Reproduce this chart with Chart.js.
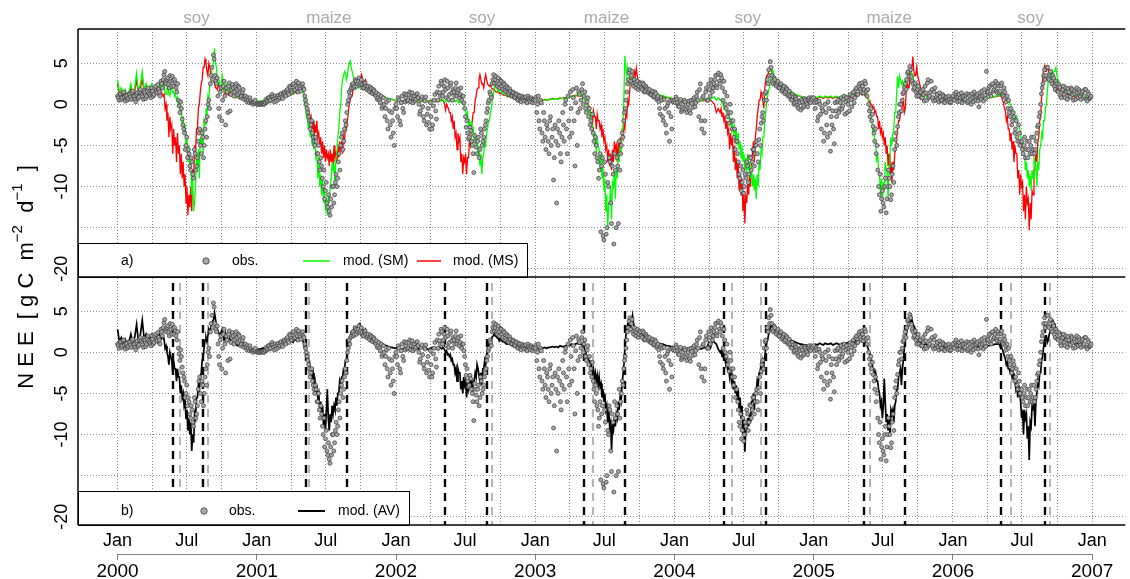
<!DOCTYPE html>
<html><head><meta charset="utf-8">
<script src="https://cdn.jsdelivr.net/npm/chart.js@4"></script>
<style>html,body{margin:0;padding:0;background:#fff;}canvas{display:block;}</style>
</head><body>
<canvas id="c" width="1130" height="579"></canvas>
<script>
const YEARS = [2000, 2001, 2002, 2003, 2004, 2005, 2006];
const LINE_STEP = 5;        // days between model values
const LINE_B_OFFSET = 122.5; // growing-season in-between model values start here (day of year)
const OBS_STEP = 4;         // days between observed values (two interleaved sets, offset 2 days)

const SM2000 = [3.0,1.5,2.0,1.2,1.8,1.0,1.5,2.5,1.2,2.0,3.8,1.5,2.5,4.0,1.8,2.5,1.5,2.0,2.5,1.8,2.2,1.5,2.5,1.8,2.2,1.5,2.0,1.2,1.8,1.5,1.0,0.5,0.0,-1.0,-2.5,-3.5,-5.0,-7.0,-8.0,-11.0,-13.0,-10.0,-7.5,-9.0,-5.0,-6.0,-2.5,-1.5,0.5,2.5,4.5,6.8,4.5,3.0,2.0,3.5,1.5,2.5,1.5,2.0,1.2,1.0,1.3,0.8,1.0,0.7,0.8,0.6,0.5,0.5,0.4,0.4,0.3];
const SM2001 = [0.3,0.4,0.3,0.5,0.4,0.6,0.5,0.7,0.6,0.8,0.7,0.9,0.8,1.0,0.9,1.2,1.0,1.3,1.5,1.2,1.6,1.4,1.8,1.5,2.0,0.0,-1.5,-3.0,-4.0,-5.0,-5.5,-6.5,-9.0,-10.0,-11.0,-12.0,-13.0,-13.5,-12.0,-9.0,-8.0,-10.0,-6.0,-3.0,0.0,3.0,4.0,3.0,4.5,5.3,4.0,3.0,2.0,2.5,2.0,2.2,1.8,2.0,1.6,1.8,1.5,1.4,1.2,1.3,1.0,1.1,0.9,0.8,0.8,0.7,0.6,0.6,0.5];
const SM2002 = [0.5,0.4,0.5,0.3,0.4,0.5,0.3,0.4,0.5,0.4,0.3,0.5,0.4,0.3,0.5,0.4,0.5,0.3,0.4,0.6,0.4,0.5,0.3,0.6,0.4,0.5,0.3,0.5,0.3,0.4,0.5,0.3,0.5,0.2,0.3,0.0,-0.5,-1.5,-2.5,-3.0,-3.5,-4.5,-5.0,-6.0,-7.5,-8.5,-6.0,-5.0,-3.0,-2.0,-0.5,1.0,2.5,2.0,1.5,1.8,1.3,1.5,1.0,1.2,0.8,1.0,0.7,0.8,0.6,0.7,0.5,0.6,0.4,0.5,0.4,0.4,0.5];
const SM2003 = [0.4,0.5,0.4,0.6,0.5,0.5,0.6,0.5,0.7,0.6,0.6,0.7,0.6,0.8,0.7,0.7,0.8,0.9,0.8,1.0,0.9,1.0,1.2,1.0,1.1,0.8,0.5,0.0,-1.0,-2.0,-3.5,-5.0,-6.0,-5.0,-8.0,-9.0,-10.5,-13.0,-15.3,-12.0,-14.0,-10.0,-11.5,-9.0,-7.0,-6.0,-2.0,5.9,3.5,4.0,2.5,3.0,2.2,2.5,2.0,2.2,1.8,2.0,1.6,1.8,1.5,1.6,1.3,1.4,1.2,1.2,1.0,1.1,0.9,0.9,0.8,0.8,0.7];
const SM2004 = [0.7,0.6,0.5,0.6,0.4,0.5,0.4,0.5,0.3,0.4,0.5,0.3,0.4,0.5,0.4,0.5,0.6,0.5,0.7,0.6,0.8,0.9,0.5,0.8,0.5,0.2,-0.5,-0.8,-1.5,-2.0,-3.0,-3.5,-4.0,-5.0,-5.5,-6.5,-7.0,-8.0,-8.5,-8.0,-9.0,-10.0,-10.5,-11.5,-10.0,-8.0,-6.0,-4.0,-1.0,1.0,2.0,3.5,4.0,3.0,2.5,2.8,2.2,2.5,2.0,2.2,1.8,1.6,1.5,1.3,1.2,1.1,1.0,0.9,0.9,0.8,0.8,0.7,0.7];
const SM2005 = [0.8,0.9,0.8,1.0,0.9,0.8,1.0,0.9,0.9,1.0,0.8,0.9,1.0,0.9,0.8,1.0,0.9,1.0,1.1,1.0,1.2,1.1,1.3,1.2,1.5,1.3,1.5,1.2,1.0,0.0,-2.0,-3.5,-4.5,-7.0,-8.0,-11.0,-12.0,-10.5,-8.0,-11.6,-6.0,-5.0,-3.0,-1.0,3.4,3.5,2.5,2.0,3.0,2.5,4.0,3.8,3.5,2.5,2.0,1.5,1.0,1.2,0.9,1.0,0.8,0.9,0.8,0.7,0.8,0.7,0.7,0.6,0.7,0.6,0.6,0.5,0.6];
const SM2006 = [0.5,0.6,0.5,0.7,0.6,0.5,0.6,0.7,0.5,0.6,0.7,0.6,0.8,0.7,0.6,0.7,0.8,0.7,0.9,0.8,0.9,1.0,0.9,1.1,1.0,1.2,1.0,0.8,0.6,0.3,0.0,-1.0,-1.5,-2.0,-2.5,-3.0,-5.0,-6.0,-8.0,-9.0,-10.0,-10.5,-9.0,-7.0,-10.0,-8.0,-5.0,-4.0,-2.0,0.0,3.0,3.5,4.0,4.0,4.5,3.0,2.5,2.0,2.2,1.5,1.8,1.2,1.6,1.0,1.4,0.9,1.5,0.8,1.2,0.7,1.0,0.6,0.5];

const SMB2000 = [2.6,1.2,2.3,1.0,2.2,1.6,1.2,0.8,0.2,-0.5,-1.5,-2.5,-4.0,-5.0,-7.0,-9.0,-12.0,-6.0,-5.5,-4.0,-3.0,-2.0,-0.5,1.0,2.5,4.0,5.5,5.0,3.0,2.8,2.2,2.8,1.8,2.2,1.5,1.8];
const SMB2001 = [1.5,0.5,-1.0,-2.0,-2.5,-4.0,-4.0,-6.0,-6.5,-8.5,-9.0,-10.0,-11.5,-11.0,-10.0,-7.0,-7.5,-6.5,-4.0,-1.0,2.0,3.5,3.8,3.5,5.0,4.5,3.5,2.5,2.8,2.0,2.4,1.8,2.2,1.7,2.0,1.5];
const SMB2002 = [0.6,0.3,0.5,0.3,0.5,0.6,0.4,0.5,0.3,0.4,0.1,0.0,-0.8,-1.0,-2.0,-2.0,-3.0,-3.5,-4.5,-5.0,-6.0,-6.5,-4.5,-3.5,-2.0,-1.0,0.5,2.0,2.0,1.5,1.8,1.4,1.6,1.1,1.3,0.9];
const SMB2003 = [1.2,0.9,0.6,-0.2,-0.8,-1.5,-3.0,-3.5,-4.0,-5.5,-6.0,-7.5,-9.0,-11.0,-12.0,-10.0,-9.5,-8.0,-8.0,-6.0,-5.0,-3.0,1.0,4.5,4.5,3.0,3.2,2.4,2.8,2.0,2.4,1.8,2.2,1.6,1.9,1.4];
const SMB2004 = [0.6,0.0,-0.3,-0.8,-1.0,-1.8,-2.0,-2.8,-3.0,-3.5,-4.5,-5.0,-6.0,-6.5,-6.0,-7.0,-7.5,-8.5,-9.0,-8.5,-7.0,-5.5,-4.0,-2.0,0.5,1.8,3.0,4.2,3.2,2.5,3.0,2.2,2.6,2.0,2.3,1.8];
const SMB2005 = [1.6,1.2,1.6,1.4,0.8,-0.5,-2.0,-3.0,-4.5,-6.0,-8.5,-9.0,-9.5,-7.0,-8.0,-7.5,-4.0,-3.5,-1.0,1.5,2.0,3.0,2.8,2.5,2.5,3.5,3.4,3.8,2.8,2.4,1.6,1.3,1.3,1.0,1.1,0.8];
const SMB2006 = [1.2,1.0,0.9,0.8,0.5,0.3,-0.3,-0.8,-1.5,-1.5,-2.5,-3.5,-4.5,-6.0,-7.0,-8.0,-8.5,-8.0,-6.5,-7.5,-7.0,-5.5,-3.5,-2.0,-0.5,1.5,2.8,3.2,3.6,4.2,3.5,2.8,2.2,2.4,1.8,1.6];

const MS2000 = [2.5,1.2,1.5,1.0,1.5,0.8,1.2,2.0,1.0,1.5,3.0,1.2,2.0,3.0,1.5,2.0,1.2,1.5,2.0,1.5,1.8,1.2,2.0,1.5,1.0,-0.5,-2.0,-4.0,-3.0,-6.0,-5.0,-7.0,-6.0,-8.5,-9.0,-10.0,-12.0,-13.5,-12.5,-13.0,-9.0,-6.0,-3.0,0.0,2.5,4.5,5.5,4.0,5.0,3.5,3.0,2.5,2.0,2.5,1.5,2.0,1.5,1.8,1.2,1.5,1.0,1.0,0.8,0.9,0.7,0.7,0.6,0.5,0.5,0.4,0.4,0.3,0.3];
const MS2001 = [0.3,0.3,0.4,0.4,0.5,0.5,0.6,0.6,0.7,0.7,0.8,0.8,0.9,0.9,1.0,1.1,1.0,1.2,1.3,1.2,1.5,1.3,1.6,1.5,1.8,1.0,0.0,-1.5,-2.0,-3.0,-4.0,-3.5,-4.0,-5.0,-6.0,-6.5,-7.0,-6.5,-7.5,-7.0,-7.5,-6.5,-7.0,-6.5,-5.5,-6.0,-4.5,-3.0,-1.0,0.5,1.0,2.0,2.5,2.5,3.0,3.6,2.5,3.0,2.2,2.0,1.8,1.6,1.5,1.3,1.2,1.0,1.0,0.9,0.8,0.7,0.6,0.6,0.5];
const MS2002 = [0.4,0.5,0.3,0.4,0.5,0.3,0.4,0.4,0.5,0.3,0.4,0.4,0.5,0.3,0.4,0.5,0.3,0.4,0.5,0.4,0.5,0.3,0.5,0.4,0.6,0.3,-0.7,-0.3,-1.0,-2.0,-3.0,-4.0,-5.5,-4.5,-7.0,-8.5,-7.0,-8.5,-6.5,-5.0,-2.0,-1.0,1.0,2.0,3.6,2.5,2.0,3.6,2.5,2.2,2.0,1.8,1.6,1.5,1.4,1.3,1.2,1.1,1.0,1.0,0.9,0.8,0.7,0.7,0.6,0.6,0.5,0.5,0.4,0.5,0.4,0.4,0.5];
const MS2003 = [0.4,0.4,0.5,0.5,0.5,0.6,0.5,0.6,0.6,0.7,0.6,0.7,0.7,0.8,0.7,0.8,0.8,0.9,0.9,1.0,1.0,1.1,1.0,1.2,1.0,0.8,0.5,0.2,-0.5,-1.0,-2.5,-1.5,-3.0,-2.0,-3.0,-4.0,-4.5,-5.5,-7.0,-7.5,-8.0,-7.0,-5.5,-7.0,-6.0,-5.5,-4.0,-3.0,-1.5,0.0,3.0,2.5,4.0,4.4,2.5,2.8,2.2,2.0,1.8,1.6,1.5,1.4,1.3,1.2,1.1,1.0,1.0,0.9,0.9,0.8,0.8,0.7,0.7];
const MS2004 = [0.6,0.5,0.5,0.4,0.4,0.5,0.3,0.4,0.3,0.4,0.4,0.3,0.4,0.4,0.5,0.4,0.5,0.5,0.6,0.5,0.3,0.0,-1.0,-0.5,-1.0,-1.5,-2.0,-3.0,-3.5,-5.5,-5.0,-7.0,-8.0,-9.0,-10.5,-11.0,-13.0,-14.5,-12.0,-11.0,-10.0,-6.0,-7.0,-3.0,-0.5,0.5,1.0,-0.5,3.0,3.5,4.5,4.0,3.5,3.0,2.5,2.5,2.2,2.0,1.8,1.7,1.5,1.4,1.3,1.2,1.1,1.0,1.0,0.9,0.8,0.8,0.7,0.7,0.7];
const MS2005 = [0.7,0.8,0.7,0.9,0.8,0.7,0.9,0.8,0.8,0.9,0.7,0.8,0.9,0.8,0.7,0.9,0.8,0.9,1.0,0.9,1.1,1.0,1.2,1.1,1.3,1.2,1.3,1.0,0.8,0.5,0.0,-0.5,-1.0,-1.5,-3.0,-3.5,-4.0,-5.0,-6.0,-7.5,-8.5,-9.5,-8.0,-5.5,-3.0,-2.0,-1.0,0.5,-0.5,3.0,2.0,4.0,5.8,3.5,4.5,3.0,2.0,1.6,1.4,1.2,1.1,1.0,0.9,0.8,0.8,0.7,0.7,0.6,0.6,0.6,0.5,0.5,0.5];
const MS2006 = [0.5,0.5,0.6,0.6,0.5,0.5,0.6,0.6,0.5,0.6,0.6,0.6,0.7,0.7,0.6,0.7,0.7,0.7,0.8,0.8,0.9,0.9,0.9,1.0,1.0,1.0,0.5,-0.5,-2.0,-3.0,-4.5,-5.5,-7.0,-6.0,-9.0,-11.0,-10.0,-13.0,-14.0,-12.0,-15.3,-14.0,-11.0,-8.0,-7.0,-4.0,-1.5,3.0,4.6,4.0,4.5,4.0,3.0,2.5,2.0,1.8,1.6,1.5,1.4,1.3,1.2,1.1,1.0,1.0,0.9,0.8,0.8,0.7,0.7,0.6,0.6,0.5,0.5];

const MSB2000 = [1.2,0.0,-1.0,-1.5,-2.5,-3.0,-4.0,-3.5,-5.0,-6.0,-7.0,-8.5,-10.0,-11.0,-10.0,-8.0,-5.0,-3.0,-0.5,1.5,3.0,4.5,5.0,3.5,4.5,3.0,2.8,2.0,1.8,2.2,1.5,2.0,1.3,1.6,1.1,1.3];
const MSB2001 = [1.6,0.8,-0.5,-1.0,-1.5,-2.0,-2.5,-2.0,-3.5,-4.0,-4.5,-5.0,-5.5,-6.0,-5.5,-6.0,-5.0,-6.0,-5.0,-4.5,-4.5,-4.0,-2.5,-2.0,0.0,1.0,1.8,2.5,2.2,3.0,3.2,3.0,2.8,2.5,2.3,1.9];
const MSB2002 = [0.5,0.0,0.0,-0.5,-1.0,-1.5,-2.0,-3.5,-3.5,-4.0,-6.0,-6.5,-6.0,-6.5,-4.5,-3.0,-1.0,0.5,1.8,3.0,3.0,2.5,3.0,3.0,2.3,2.4,1.9,1.9,1.5,1.6,1.3,1.3,1.1,1.1,0.9,1.0];
const MSB2003 = [1.1,0.9,0.6,0.0,-0.3,-1.0,-0.8,-1.5,-1.2,-2.0,-2.5,-3.0,-4.0,-5.0,-5.5,-6.0,-5.5,-4.5,-5.0,-4.5,-4.0,-3.5,-2.5,-1.0,0.5,1.5,3.5,3.0,3.5,3.5,2.4,2.5,2.1,1.9,1.7,1.5];
const MSB2004 = [-0.5,-1.0,-1.5,-2.0,-3.0,-3.5,-4.0,-5.0,-6.5,-7.0,-8.5,-9.0,-10.5,-11.0,-9.5,-8.5,-7.0,-4.5,-4.0,-1.5,0.5,1.5,0.5,2.0,3.5,4.0,4.5,3.5,3.2,2.8,2.6,2.3,2.1,1.9,1.8,1.6];
const MSB2005 = [1.4,1.1,1.2,0.9,0.7,0.3,0.0,-0.3,-0.8,-1.5,-2.0,-3.0,-3.5,-4.0,-5.0,-6.0,-7.0,-7.0,-6.0,-4.0,-2.0,-1.0,0.0,-1.0,1.5,2.0,3.5,4.5,4.0,3.5,3.5,2.5,1.8,1.5,1.3,1.1];
const MSB2006 = [1.1,0.9,0.2,-0.8,-1.5,-3.0,-3.5,-4.5,-5.0,-6.0,-8.0,-8.5,-9.5,-11.0,-10.0,-11.5,-12.0,-10.5,-8.0,-6.0,-4.5,-2.0,1.0,4.0,4.0,4.3,3.8,3.4,2.8,2.2,2.0,1.7,1.6,1.4,1.4,1.2];

const AV2000 = [2.8,1.3,1.8,1.1,1.6,0.9,1.3,2.2,1.1,1.8,3.4,1.3,2.2,3.9,1.6,2.2,1.3,1.8,2.2,1.6,2.0,1.3,2.2,1.6,2.0,0.5,0.0,-1.5,-0.5,-2.5,-2.0,-3.5,-3.0,-5.0,-5.5,-6.5,-8.0,-9.5,-10.0,-12.0,-11.0,-8.0,-5.5,-4.5,-2.5,-0.5,1.5,1.3,2.8,3.0,3.8,4.8,3.3,2.5,1.8,2.8,1.5,2.2,1.4,1.8,1.1,1.0,1.1,0.8,0.9,0.7,0.7,0.6,0.5,0.4,0.4,0.3,0.3];
const AV2001 = [0.3,0.4,0.4,0.5,0.5,0.6,0.6,0.7,0.7,0.8,0.8,0.9,0.9,1.0,1.0,1.2,1.0,1.3,1.4,1.2,1.6,1.4,1.7,1.5,1.5,0.5,0.0,-1.0,-2.0,-3.0,-4.0,-5.0,-5.5,-7.0,-7.5,-9.0,-9.5,-4.5,-9.5,-8.5,-7.5,-7.0,-6.5,-5.0,-4.0,-3.0,-2.0,-1.0,0.5,1.5,2.5,3.0,2.5,3.0,3.5,3.0,2.5,2.8,2.2,2.0,1.8,1.6,1.5,1.3,1.2,1.0,1.0,0.9,0.8,0.7,0.6,0.6,0.5];
const AV2002 = [0.5,0.4,0.5,0.3,0.5,0.4,0.3,0.5,0.6,0.4,0.3,0.5,0.4,0.6,0.5,0.4,0.5,0.3,0.5,0.6,0.4,0.5,0.3,0.6,0.4,0.5,0.0,-0.3,-0.5,-1.0,-1.5,-2.5,-3.5,-2.5,-4.5,-5.0,-4.0,-5.5,-4.5,-4.0,-5.2,-3.5,-3.0,-2.0,-3.5,-4.0,-2.0,-1.5,0.5,0.8,1.5,2.0,2.0,1.8,1.5,1.5,1.3,1.2,1.0,1.1,0.9,0.8,0.7,0.8,0.6,0.6,0.5,0.5,0.4,0.5,0.4,0.4,0.5];
const AV2003 = [0.4,0.5,0.4,0.5,0.5,0.6,0.5,0.6,0.6,0.7,0.6,0.7,0.6,0.8,0.7,0.7,0.8,0.9,0.8,1.0,0.9,1.0,1.1,1.0,1.0,0.8,0.3,-0.5,-1.0,-1.8,-2.5,-3.2,-3.5,-4.0,-4.2,-5.5,-6.0,-7.0,-8.5,-9.0,-11.9,-9.5,-9.0,-8.0,-7.0,-6.0,-4.0,0.5,2.7,3.5,3.0,4.5,3.0,2.5,2.3,2.5,2.0,2.2,1.8,1.9,1.6,1.5,1.4,1.3,1.2,1.1,1.0,1.0,0.9,0.8,0.8,0.7,0.7];
const AV2004 = [0.6,0.5,0.5,0.5,0.4,0.5,0.4,0.5,0.3,0.4,0.5,0.3,0.4,0.5,0.4,0.5,0.6,0.5,1.2,0.6,1.5,1.2,1.0,0.4,0.0,-0.5,-0.8,-1.5,-2.2,-3.0,-3.5,-4.5,-5.0,-5.8,-7.0,-8.0,-10.0,-12.1,-9.5,-9.0,-8.5,-6.0,-7.0,-5.0,-4.0,-2.5,-2.0,-1.5,0.5,1.5,2.5,3.5,3.0,2.5,2.2,2.1,2.0,1.9,1.8,1.7,1.6,1.5,1.4,1.3,1.2,1.1,1.0,1.0,0.9,0.9,0.8,0.8,0.7];
const AV2005 = [0.9,1.0,0.9,1.1,1.0,0.9,1.1,1.0,1.0,1.1,0.9,1.0,1.1,1.0,0.9,1.1,1.0,1.1,1.2,1.1,1.3,1.2,1.4,1.3,1.5,1.4,1.5,1.2,0.8,0.0,-1.0,-2.0,-3.0,-3.5,-4.5,-6.5,-8.0,-3.2,-8.5,-9.5,-9.9,-7.5,-8.5,-6.0,-4.5,-2.5,-4.0,-1.0,1.5,3.0,3.5,4.7,3.5,3.0,2.0,1.5,1.0,1.2,0.9,1.0,0.8,0.9,0.8,0.8,0.7,0.8,0.7,0.6,0.7,0.6,0.6,0.5,0.6];
const AV2006 = [0.5,0.6,0.5,0.6,0.6,0.5,0.6,0.6,0.5,0.6,0.6,0.6,0.7,0.7,0.6,0.7,0.8,0.7,0.8,0.8,0.9,0.9,1.0,1.0,1.0,0.5,0.3,-0.5,-1.5,-2.0,-2.5,-3.0,-3.5,-4.5,-5.5,-5.0,-8.0,-10.0,-8.0,-10.5,-13.1,-9.0,-7.0,-9.0,-5.0,-4.0,-2.5,-0.5,1.5,2.0,1.5,2.5,3.5,3.5,3.0,2.5,2.0,2.2,1.5,1.8,1.3,1.6,1.1,1.4,1.0,1.3,0.8,1.1,0.7,0.9,0.6,0.5,0.5];

const AVB2000 = [1.5,0.8,-0.5,0.0,-1.0,-1.0,-2.0,-2.0,-3.0,-4.0,-5.0,-6.0,-7.0,-8.0,-8.5,-10.0,-7.5,-5.5,-4.0,-3.0,-1.0,0.5,1.8,2.0,2.5,3.5,4.0,4.0,2.8,2.2,2.5,2.0,1.8,1.8,1.6,1.4];
const AVB2001 = [1.2,0.4,-0.3,-1.0,-2.0,-2.5,-3.5,-4.0,-5.0,-6.0,-6.5,-7.5,-7.0,-8.0,-7.5,-6.5,-6.5,-5.5,-5.0,-3.5,-3.0,-2.0,-1.0,0.0,1.2,2.2,2.5,3.0,2.8,3.4,3.0,2.8,2.6,2.4,2.2,1.9];
const AVB2002 = [0.6,0.3,0.2,-0.2,-0.3,-0.8,-1.5,-2.0,-2.0,-2.5,-3.5,-3.0,-3.5,-4.0,-3.0,-3.5,-3.5,-2.5,-1.5,-2.0,-2.5,-2.0,-1.0,-0.5,1.0,1.3,1.9,2.2,1.9,1.7,1.6,1.4,1.3,1.1,1.0,1.0];
const AVB2003 = [1.0,0.7,0.0,-0.5,-1.0,-1.5,-2.0,-2.5,-2.8,-3.0,-3.8,-4.5,-5.0,-6.5,-7.0,-8.5,-9.0,-8.0,-7.5,-6.0,-5.5,-4.0,-1.5,2.0,3.5,3.0,3.8,3.6,2.6,2.6,2.2,2.3,2.0,2.0,1.7,1.7];
const AVB2004 = [0.2,-0.3,-0.8,-1.0,-2.0,-2.0,-3.0,-3.5,-4.0,-4.5,-5.5,-6.5,-8.0,-9.5,-8.0,-7.5,-6.0,-5.0,-5.0,-3.5,-2.5,-1.5,-1.0,-0.5,1.2,2.2,3.2,3.0,2.8,2.3,2.2,2.0,2.0,1.8,1.8,1.6];
const AVB2005 = [1.6,1.3,1.4,1.0,0.5,-0.3,-1.0,-2.0,-2.5,-3.5,-5.0,-6.0,-6.5,-6.0,-7.5,-8.0,-7.0,-7.0,-6.5,-4.5,-3.0,-2.0,-2.0,0.5,2.0,3.0,3.8,4.0,3.2,2.5,1.8,1.2,1.2,1.0,1.0,0.9];
const AVB2006 = [0.9,0.6,0.0,-0.8,-1.2,-2.0,-2.2,-2.5,-3.5,-4.0,-4.0,-6.0,-7.0,-7.0,-7.5,-9.0,-8.5,-6.5,-6.0,-6.0,-3.5,-2.5,-1.0,0.5,2.0,1.2,2.2,3.0,3.8,3.2,2.8,2.2,2.4,1.6,2.0,1.5];

const OBS2000 = [1.0,0.5,1.3,0.8,1.5,0.4,1.1,0.7,1.2,0.6,1.6,1.0,0.3,1.4,0.9,1.8,1.1,0.6,1.5,1.0,2.0,1.2,0.8,1.6,1.2,2.2,1.4,1.8,1.0,2.5,3.0,4.0,2.5,3.2,2.0,2.8,3.4,2.2,2.6,1.5,0.5,-1.0,-0.5,-2.5,-3.5,-5.0,-6.5,-6.0,-8.0,-7.0,-9.0,-6.0,-7.5,-4.5,-3.0,-6.0,-4.0,-5.0,-2.0,-1.5,0.5,2.5,4.5,6.0,3.5,2.5,1.0,-1.5,2.0,0.5,2.8,-2.5,1.5,2.2,-0.8,1.8,2.0,1.5,2.5,1.2,2.0,0.8,1.5,0.6,1.0,0.3,0.5,0.8,0.2,0.0,0.3];
const OBS2001 = [0.0,0.0,0.1,0.0,0.1,0.0,0.6,0.4,0.8,0.5,1.2,0.6,1.0,0.4,1.1,0.8,1.3,0.7,1.5,1.0,1.8,1.2,2.0,1.5,2.5,1.8,2.8,1.5,2.2,1.6,2.5,1.8,0.5,-0.5,-1.5,-3.0,-2.0,-4.0,-5.0,-4.5,-6.0,-7.0,-6.5,-9.0,-8.0,-10.5,-12.0,-11.0,-13.5,-12.5,-10.0,-11.0,-8.5,-9.0,-6.0,-5.0,-3.5,-4.5,-2.0,-1.0,0.5,1.0,2.0,2.5,2.2,2.8,2.5,3.2,2.6,2.4,2.0,2.6,1.8,2.2,1.5,1.9,1.3,1.6,1.0,0.6,1.2,0.2,-0.5,0.8,-1.5,0.3,-3.0,-0.8,-4.0,-2.0,-5.0];
const OBS2002 = [0.0,-1.5,0.5,-2.5,1.0,-1.0,0.3,1.2,0.5,1.5,0.8,0.2,1.0,0.6,1.3,0.0,-0.8,0.9,-1.5,0.4,-2.5,-0.5,-3.0,-1.5,-2.5,0.5,-0.8,1.5,2.2,1.0,2.5,1.5,3.0,0.8,2.0,1.2,2.6,0.5,1.5,2.0,1.0,1.8,1.2,0.5,1.0,-0.5,-2.8,-3.5,-4.0,-3.2,-5.0,-8.3,-4.5,-6.0,-4.0,-5.5,-3.5,-4.5,-3.0,-2.0,-0.5,0.5,1.2,2.5,3.6,3.0,2.5,3.2,2.0,2.8,1.8,2.4,1.5,2.0,1.2,1.6,1.0,1.4,0.8,1.2,0.5,1.0,0.3,0.8,0.4,0.9,0.2,0.7,0.3,0.6,0.5];
const OBS2003 = [0.5,-1.0,1.0,-3.0,0.2,-4.5,-2.0,-5.5,-3.0,-6.0,-1.5,-4.0,-9.2,-2.5,-12.0,-5.0,-3.5,-7.0,-1.0,-4.5,0.5,-6.0,-2.0,1.5,-3.5,0.8,-7.5,2.0,-1.0,1.2,0.5,2.5,1.0,-0.5,0.3,-1.5,-2.5,-3.0,-3.5,-6.0,-5.0,-7.0,-8.0,-15.5,-6.5,-16.5,-8.5,-15.0,-10.0,-7.0,-14.5,-8.5,-6.0,-15.0,-7.5,-4.5,-6.0,-3.5,-2.0,-0.5,1.5,3.0,4.2,3.5,2.5,3.0,2.0,2.8,2.2,2.5,1.8,2.4,1.6,2.0,1.4,1.8,1.2,1.6,1.0,1.3,0.8,0.3,-1.2,0.5,-2.0,-0.5,-3.5,0.2,-4.5,-1.5,0.5];
const OBS2004 = [0.5,0.9,0.2,-0.3,0.6,-0.7,-0.5,0.3,-1.0,0.0,-0.8,0.5,-0.4,0.8,0.2,1.5,-1.5,2.5,-3.0,1.0,-2.0,2.0,0.5,1.8,3.0,1.5,2.5,3.5,2.0,3.8,2.5,3.2,0.5,1.5,-0.5,-1.5,-2.3,-1.0,-3.0,-4.0,-5.5,-4.5,-7.0,-9.0,-10.5,-8.0,-10.0,-9.0,-7.5,-8.5,-6.5,-7.0,-5.5,-6.0,-4.5,-7.0,-3.0,-2.3,-1.0,0.5,1.5,3.0,4.2,5.2,3.5,2.5,3.0,2.2,2.8,2.0,2.5,1.8,2.2,1.5,1.8,1.2,1.0,0.5,0.9,0.2,0.6,-0.3,0.4,-0.7,0.3,-0.2,0.5,0.0,0.6,0.4,0.8];
const OBS2005 = [0.8,-0.5,0.3,-1.5,0.0,-3.0,-0.8,-3.5,-1.0,-4.0,-0.5,-5.7,-2.5,-3.0,0.2,-1.5,0.5,-0.5,0.8,-0.2,1.0,0.3,-1.0,0.5,1.2,-0.3,1.5,0.8,2.0,1.2,2.5,1.5,2.2,1.8,2.5,1.0,0.0,-1.5,-2.0,-2.7,-4.5,-6.0,-8.0,-11.0,-13.0,-10.5,-12.5,-9.0,-11.5,-8.0,-10.0,-11.0,-7.5,-5.5,-3.5,-2.7,-1.0,0.0,0.5,1.5,2.5,3.0,4.0,4.6,3.4,2.5,2.0,1.5,1.8,1.0,1.5,0.8,1.2,2.2,0.5,3.0,1.0,2.8,0.8,1.5,0.5,1.2,0.3,0.9,0.5,1.0,0.2,0.8,0.4,0.6,0.3];
const OBS2006 = [1.0,0.5,1.5,0.3,1.2,0.8,0.2,1.0,0.6,1.3,0.4,1.0,0.0,0.8,1.5,0.5,1.2,-0.3,0.9,1.6,0.4,1.1,4.0,1.5,2.2,1.0,2.5,1.8,2.8,1.4,2.2,1.6,2.6,1.0,1.5,0.3,-0.5,-1.0,-0.5,-2.0,-1.5,-3.0,-4.0,-2.5,-5.0,-4.5,-6.0,-4.0,-5.5,-6.5,-4.5,-5.0,-6.0,-4.0,-5.5,-3.5,-2.5,-1.0,1.3,2.5,4.2,3.5,4.5,3.0,4.0,2.5,3.2,1.8,2.5,1.5,2.1,0.8,1.8,1.2,2.0,0.6,1.5,0.9,1.8,0.5,1.3,2.0,0.8,1.5,0.6,1.6,1.0,1.8,0.4,1.2,0.8];

const OBSB2000 = [0.8,1.2,0.6,1.4,0.9,1.0,0.5,1.3,0.9,1.4,0.8,0.6,1.2,0.7,1.5,1.3,0.9,1.7,0.7,1.6,1.4,1.0,2.0,1.0,2.0,1.6,2.4,1.5,2.8,2.0,3.6,2.7,3.0,2.4,3.5,2.2,2.9,3.0,2.0,2.5,-0.2,0.3,-1.8,-3.0,-5.5,-4.0,-5.5,-7.5,-6.5,-8.5,-5.5,-8.0,-6.5,-3.5,-5.0,-3.5,-6.5,-3.0,-4.0,0.0,-0.5,3.5,3.0,5.5,2.8,3.2,-0.5,1.5,-2.0,2.2,1.0,2.0,-1.0,2.6,1.2,2.4,1.0,2.2,1.8,2.2,1.4,1.0,1.8,1.0,0.6,0.8,0.2,0.4,0.1,0.2,0.5];
const OBSB2001 = [0.1,0.0,0.0,0.1,0.0,0.2,0.3,0.8,0.4,1.0,0.9,0.3,0.7,0.9,0.6,1.2,0.9,1.4,1.2,1.6,1.4,2.2,1.7,2.4,1.7,2.2,2.0,2.6,1.9,2.3,2.0,1.0,0.0,-1.0,-2.0,-2.5,-3.5,-4.5,-4.0,-6.0,-5.0,-8.0,-7.5,-10.0,-11.5,-9.5,-12.5,-13.0,-11.5,-10.0,-12.0,-9.5,-10.0,-7.0,-8.0,-4.0,-5.5,-3.0,-2.5,0.0,1.5,1.8,2.4,2.0,3.0,2.2,2.8,2.4,3.0,2.0,2.5,2.2,2.0,1.7,2.1,1.4,1.8,1.2,1.4,0.8,0.5,1.0,-0.2,0.0,-0.5,-2.0,0.5,-2.5,-1.0,-3.5,-0.5];
const OBSB2002 = [-0.5,0.8,-2.0,0.2,-0.5,1.3,0.8,0.4,1.2,0.3,1.4,0.7,0.4,1.2,0.8,-1.2,0.6,-0.3,-2.0,0.9,-1.2,-2.2,0.2,-3.0,-0.2,1.2,-1.8,0.5,1.4,2.8,1.0,2.2,1.8,2.8,0.6,2.3,1.4,1.8,1.0,2.6,1.4,0.8,2.0,1.0,0.2,-1.5,-2.0,-4.2,-2.8,-4.5,-6.0,-3.8,-5.2,-4.5,-6.5,-3.0,-5.0,-4.0,-2.5,-1.0,0.2,1.5,0.8,3.0,2.6,3.4,2.2,2.5,2.9,2.2,2.6,1.7,2.2,1.4,1.9,1.1,1.5,0.9,1.3,0.6,1.1,0.4,1.0,0.6,0.8,0.3,1.0,0.5,0.8,0.2,0.6];
const OBSB2003 = [0.9,0.0,-2.0,0.5,-3.5,-1.0,-4.0,-2.5,-4.5,-2.0,-5.0,-3.0,-6.5,-4.5,-3.0,-2.0,-6.0,-4.0,-2.5,0.0,-3.0,1.0,-4.0,-0.5,1.8,-2.0,0.2,-5.0,1.5,-0.5,1.8,0.0,1.5,-1.0,0.8,-0.5,-2.0,-1.2,-4.5,-4.0,-6.5,-9.0,-6.0,-7.5,-16.0,-7.0,-15.8,-9.5,-6.5,-12.0,-7.5,-17.0,-8.0,-6.5,-14.5,-8.0,-5.0,-4.0,-1.0,0.5,2.5,3.8,2.8,4.0,2.2,2.6,2.4,1.8,2.6,2.0,2.6,1.5,2.2,1.8,1.6,1.2,1.5,0.9,1.5,0.6,1.0,-0.5,0.8,-1.5,0.6,-2.5,-0.2,-1.0,0.4,-3.0,0.3];
const OBSB2004 = [0.2,0.6,-0.2,0.4,-0.9,0.0,0.5,-0.6,-0.3,0.4,-1.1,0.1,0.6,-0.3,1.0,0.5,1.8,-2.0,0.8,-3.5,1.5,0.5,2.5,1.0,2.4,2.0,3.0,2.2,3.6,2.8,3.6,2.0,2.8,0.0,1.0,-1.0,0.0,-2.0,-2.0,-3.0,-4.5,-6.0,-8.5,-7.5,-9.5,-10.8,-8.5,-7.0,-9.5,-6.4,-8.0,-5.5,-7.5,-5.0,-6.0,-4.3,-5.0,-1.5,-2.0,1.3,0.5,2.5,3.5,4.5,2.8,3.2,2.4,2.6,2.0,2.4,1.6,2.0,1.3,2.0,1.0,1.6,0.6,1.2,0.0,0.8,0.3,-0.5,0.2,0.6,-0.4,0.7,0.2,-0.3,0.8,0.2,0.6];
const OBSB2005 = [0.2,0.5,-2.0,0.4,-1.2,-0.5,-4.5,0.0,-2.5,0.3,-3.5,-1.5,-0.8,-4.8,-0.8,0.3,-1.0,0.2,-0.6,0.6,-1.2,0.8,0.0,-0.8,0.6,1.0,0.2,1.8,1.2,2.2,1.8,2.6,1.4,2.8,1.6,1.8,-0.8,-0.5,-1.2,-3.5,-3.0,-5.0,-10.0,-8.5,-11.5,-12.0,-10.0,-13.2,-10.0,-9.0,-11.6,-8.5,-9.5,-4.3,-5.0,-1.5,0.0,-0.8,1.3,2.0,1.8,3.8,3.4,4.2,2.8,1.8,2.6,1.0,2.2,1.5,0.8,1.8,0.4,1.4,2.6,0.8,1.5,1.8,0.4,2.0,0.9,0.6,1.4,0.4,1.2,0.3,0.9,0.5,1.0,0.2,0.7];
const OBSB2006 = [0.6,1.3,0.8,0.9,0.4,1.4,0.8,0.5,1.1,0.2,1.2,0.6,1.3,0.3,0.9,1.0,0.4,1.4,0.6,1.0,1.8,0.7,1.5,2.0,1.2,2.4,1.6,2.2,1.6,2.5,1.4,2.3,1.2,2.0,0.8,1.0,0.5,-1.5,-2.5,-1.0,-3.5,-2.0,-4.5,-3.5,-4.5,-5.5,-5.0,-6.5,-4.5,-5.5,-6.0,-4.0,-5.5,-6.0,-4.5,-2.7,-1.5,0.0,2.0,3.5,3.0,4.5,3.2,3.8,2.8,3.5,2.2,2.8,1.6,2.4,1.0,1.6,2.2,0.8,1.5,1.9,1.0,2.0,1.2,1.6,0.6,1.4,1.8,0.9,1.4,0.8,1.8,0.6,1.5,0.7,1.0];

// management dates (decimal years) shown as dashed verticals in panel b
const BLACK_DASH = [2000.395,2000.615,2001.353,2001.651,2002.352,2002.654,2003.347,2003.643,2004.353,2004.658,2005.361,2005.658,2006.345,2006.664];
const GRAY_DASH = [2000.452,2000.650,2001.372,2002.690,2003.417,2004.410,2004.625,2005.404,2006.416,2006.695];

const CROPS = ['soy','maize','soy','maize','soy','maize','soy'];
const CROP_X = [2000.567,2001.518,2002.618,2003.512,2004.527,2005.542,2006.557];

const Y_TICKS = [-20,-15,-10,-5,0,5];
const Y_LABELS = [5,0,-5,-10,-20];
const YEAR_TICKS = [2000,2001,2002,2003,2004,2005,2006,2007];

const X_MIN = 1999.716, X_MAX = 2007.238;
const Y_MIN = -21.0, Y_MAX = 9.16;
const FONT = "'Liberation Sans', Arial, Helvetica, sans-serif";

const SM = [SM2000,SM2001,SM2002,SM2003,SM2004,SM2005,SM2006];
const SMB = [SMB2000,SMB2001,SMB2002,SMB2003,SMB2004,SMB2005,SMB2006];
const MS = [MS2000,MS2001,MS2002,MS2003,MS2004,MS2005,MS2006];
const MSB = [MSB2000,MSB2001,MSB2002,MSB2003,MSB2004,MSB2005,MSB2006];
const AV = [AV2000,AV2001,AV2002,AV2003,AV2004,AV2005,AV2006];
const AVB = [AVB2000,AVB2001,AVB2002,AVB2003,AVB2004,AVB2005,AVB2006];
const OBS = [OBS2000,OBS2001,OBS2002,OBS2003,OBS2004,OBS2005,OBS2006];
const OBSB = [OBSB2000,OBSB2001,OBSB2002,OBSB2003,OBSB2004,OBSB2005,OBSB2006];

function daysIn(y){ return (Date.UTC(y+1,0,1)-Date.UTC(y,0,1))/86400000; }
function dec(y,m,d){ return y + (Date.UTC(y,m,d)-Date.UTC(y,0,1))/86400000/daysIn(y); }
function toPoints(perYear, step, offset){
  const pts = [];
  YEARS.forEach((yr,k)=>{ const n = daysIn(yr); perYear[k].forEach((v,i)=>pts.push({x: yr + (offset + i*step)/n, y: v})); });
  return pts;
}
function merged(a, b){ return a.concat(b).sort((p,q)=>p.x-q.x); }
function linePoints(A, B){ return merged(toPoints(A, LINE_STEP, 0), toPoints(B, LINE_STEP, LINE_B_OFFSET)); }
function obsPoints(){ return merged(toPoints(OBS, OBS_STEP, 0), toPoints(OBSB, OBS_STEP, 2)); }

const quarterTicks = [], quarterLabels = [];
YEARS.forEach(y => [0,3,6,9].forEach(m => { quarterTicks.push(dec(y,m,1)); quarterLabels.push(m===0?'Jan':(m===6?'Jul':'')); }));
quarterTicks.push(2007); quarterLabels.push('Jan');

function obsDataset(axis){
  return {label:'obs.', data: obsPoints(), yAxisID: axis, showLine:false,
    pointRadius:2.0, pointBackgroundColor:'#a8a8a8', pointBorderColor:'#383838', pointBorderWidth:0.7, order:0};
}

const panelDecor = {
  id:'panelDecor',
  beforeDatasetsDraw(chart){
    const {ctx} = chart, xs = chart.scales.x, yb = chart.scales.yb, ca = chart.chartArea;
    ctx.save();
    ctx.beginPath(); ctx.rect(ca.left, yb.top, ca.right-ca.left, yb.bottom-yb.top); ctx.clip();
    const draw = (arr, color, w) => {
      ctx.strokeStyle = color; ctx.lineWidth = w; ctx.setLineDash([8,6]); ctx.lineDashOffset = 8;
      arr.forEach(v => { const px = Math.round(xs.getPixelForValue(v)); ctx.beginPath(); ctx.moveTo(px, yb.top); ctx.lineTo(px, yb.bottom); ctx.stroke(); });
    };
    draw(GRAY_DASH, '#b4b4b4', 2);
    draw(BLACK_DASH, '#000000', 2.4);
    ctx.restore();
  },
  afterDatasetsDraw(chart){
    const {ctx} = chart, ca = chart.chartArea, ya = chart.scales.ya, yb = chart.scales.yb, xs = chart.scales.x, x2 = chart.scales.x2;
    ctx.save();
    const legend = (bottom, right, tag, items, cy) => {
      ctx.fillStyle = '#fff'; ctx.fillRect(ca.left, bottom-34, right-ca.left, 34);
      ctx.strokeStyle = '#000'; ctx.lineWidth = 1; ctx.setLineDash([]);
      ctx.strokeRect(ca.left+0.5, bottom-34+0.5, right-ca.left, 34);
      ctx.font = '14px ' + FONT; ctx.fillStyle = '#000'; ctx.textBaseline = 'middle'; ctx.textAlign = 'left';
      ctx.fillText(tag, 121, cy);
      items.forEach(it => {
        if (it.type === 'pt') {
          ctx.beginPath(); ctx.arc(it.x, cy, 3.2, 0, Math.PI*2);
          ctx.fillStyle = '#a8a8a8'; ctx.fill(); ctx.strokeStyle = '#383838'; ctx.lineWidth = 0.8; ctx.stroke();
        } else {
          ctx.strokeStyle = it.color; ctx.lineWidth = it.w; ctx.beginPath(); ctx.moveTo(it.x, cy); ctx.lineTo(it.x2, cy); ctx.stroke();
        }
        ctx.fillStyle = '#000'; ctx.fillText(it.text, it.tx, cy);
      });
    };
    legend(ya.bottom, 527, 'a)', [
      {type:'pt', x:206, text:'obs.', tx:232},
      {type:'ln', x:303, x2:330, color:'#00ff00', w:1.5, text:'mod. (SM)', tx:343},
      {type:'ln', x:417, x2:441, color:'#ff0000', w:1.5, text:'mod. (MS)', tx:453}
    ], ya.bottom-16);
    legend(yb.bottom, 409, 'b)', [
      {type:'pt', x:204, text:'obs.', tx:229},
      {type:'ln', x:298, x2:325, color:'#000', w:2, text:'mod. (AV)', tx:338}
    ], yb.bottom-14);

    ctx.strokeStyle = '#000'; ctx.lineWidth = 1.5;
    ctx.beginPath();
    ctx.moveTo(ca.left, ca.top); ctx.lineTo(ca.right, ca.top);
    ctx.moveTo(ca.left, ya.bottom); ctx.lineTo(ca.right, ya.bottom);
    ctx.moveTo(ca.left, ca.bottom); ctx.lineTo(ca.right, ca.bottom);
    ctx.moveTo(ca.left, ca.top); ctx.lineTo(ca.left, ca.bottom);
    ctx.stroke();

    ctx.fillStyle = '#000'; ctx.font = '18px ' + FONT; ctx.textAlign = 'center'; ctx.textBaseline = 'middle';
    [ya, yb].forEach(s => Y_LABELS.forEach(v => {
      ctx.save(); ctx.translate(62, s.getPixelForValue(v)); ctx.rotate(-Math.PI/2);
      ctx.fillText(String(v), 0, 0); ctx.restore();
    }));

    ctx.strokeStyle = '#808080'; ctx.lineWidth = 1;
    ctx.beginPath(); ctx.moveTo(x2.getPixelForValue(2000), x2.top+0.5); ctx.lineTo(x2.getPixelForValue(2007), x2.top+0.5); ctx.stroke();

    ctx.fillStyle = '#aaaaaa'; ctx.font = '17px ' + FONT; ctx.textAlign = 'center'; ctx.textBaseline = 'alphabetic';
    CROPS.forEach((c,i) => ctx.fillText(c, xs.getPixelForValue(CROP_X[i]), 23));

    ctx.save();
    ctx.translate(27, (ca.top+ca.bottom)/2); ctx.rotate(-Math.PI/2);
    ctx.fillStyle = '#000'; ctx.textBaseline = 'middle'; ctx.textAlign = 'left';
    const parts = [['N E E  [ g C  m',22,0],['\u22122',15,-9],['  d',22,0],['\u22121',15,-9],['  ]',22,0]];
    let total = 0;
    parts.forEach(p => { ctx.font = p[1]+'px '+FONT; total += ctx.measureText(p[0]).width; });
    let xx = -total/2;
    parts.forEach(p => { ctx.font = p[1]+'px '+FONT; ctx.fillText(p[0], xx, p[2]); xx += ctx.measureText(p[0]).width; });
    ctx.restore();
    ctx.restore();
  }
};

const gridDotted = {color:'#8a8a8a', lineWidth:1, drawTicks:false};

new Chart(document.getElementById('c'), {
  type:'line',
  data:{ datasets:[
    obsDataset('ya'),
    {label:'mod. (SM)', data: linePoints(SM, SMB), yAxisID:'ya', borderColor:'#00ff00', borderWidth:1.3, pointRadius:0, tension:0, order:1},
    {label:'mod. (MS)', data: linePoints(MS, MSB), yAxisID:'ya', borderColor:'#ff0000', borderWidth:1.3, pointRadius:0, tension:0, order:2},
    obsDataset('yb'),
    {label:'mod. (AV)', data: linePoints(AV, AVB), yAxisID:'yb', borderColor:'#000000', borderWidth:1.7, pointRadius:0, tension:0, order:1}
  ]},
  options:{
    responsive:false, animation:false, devicePixelRatio:1, events:[],
    layout:{padding:{top:29, left:0, right:0, bottom:0}},
    plugins:{legend:{display:false}, tooltip:{enabled:false}, title:{display:false}},
    scales:{
      x:{type:'linear', position:'bottom', min:X_MIN, max:X_MAX,
        afterBuildTicks: s => { s.ticks = quarterTicks.map(v => ({value:v})); },
        ticks:{autoSkip:false, maxRotation:0, minRotation:0, padding:5, color:'#000', font:{family:FONT, size:18},
          callback:(v,i) => quarterLabels[i]},
        grid: gridDotted, border:{display:false, dash:[1,2]},
        afterFit: s => { s.height = 29; }},
      x2:{type:'linear', position:'bottom', min:X_MIN, max:X_MAX,
        afterBuildTicks: s => { s.ticks = YEAR_TICKS.map(v => ({value:v})); },
        ticks:{autoSkip:false, maxRotation:0, minRotation:0, padding:0, color:'#000', font:{family:FONT, size:19},
          callback:(v,i) => String(YEAR_TICKS[i])},
        grid:{drawOnChartArea:false, drawTicks:true, tickLength:6, color:'#808080', lineWidth:1},
        border:{display:false},
        afterFit: s => { s.height = 25; }},
      ya:{type:'linear', position:'left', stack:'panels', stackWeight:1, weight:2, min:Y_MIN, max:Y_MAX,
        afterBuildTicks: s => { s.ticks = Y_TICKS.map(v => ({value:v})); },
        ticks:{display:false}, grid: gridDotted, border:{display:false, dash:[1,2]},
        afterFit: s => { s.width = 78; }},
      yb:{type:'linear', position:'left', stack:'panels', stackWeight:1, weight:1, min:Y_MIN, max:Y_MAX,
        afterBuildTicks: s => { s.ticks = Y_TICKS.map(v => ({value:v})); },
        ticks:{display:false}, grid: gridDotted, border:{display:false, dash:[1,2]},
        afterFit: s => { s.width = 78; }}
    }
  },
  plugins:[panelDecor]
});
</script>
</body></html>
